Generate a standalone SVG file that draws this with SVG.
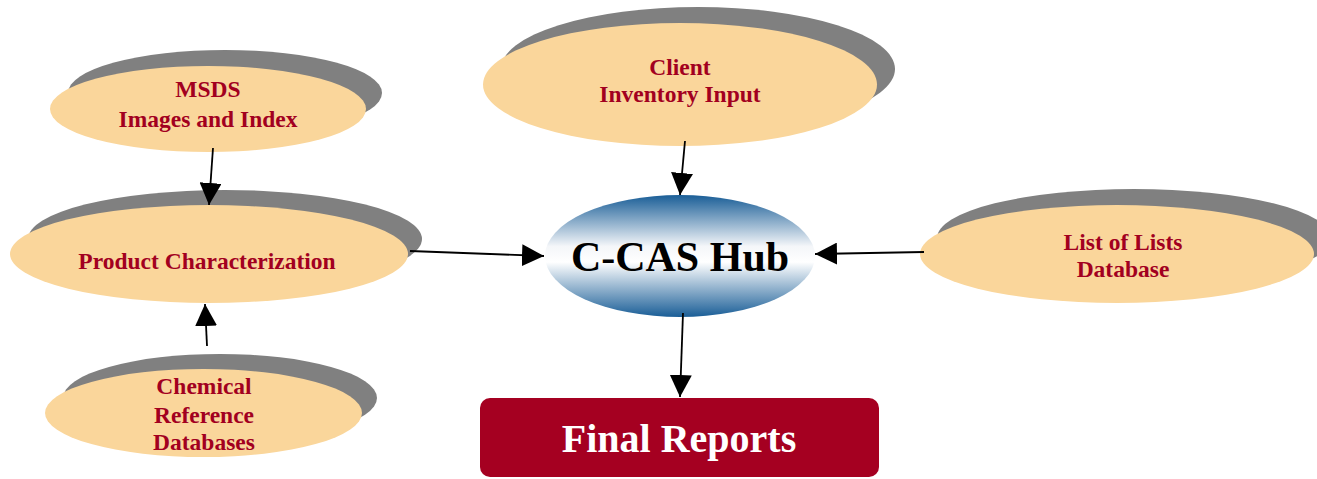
<svg xmlns="http://www.w3.org/2000/svg" width="1317" height="479" viewBox="0 0 1317 479">
<style>
.shadow{fill:#808080}
.front{fill:#fad69b}
.lbl{font-family:"Liberation Serif","Times New Roman",serif;font-weight:bold;font-size:23.5px;fill:#a2001f;text-anchor:middle}
.conn{stroke:#000;stroke-width:1.8;fill:none;marker-end:url(#arr)}
</style>
<defs>
<marker id="arr" markerUnits="userSpaceOnUse" markerWidth="22" markerHeight="22" viewBox="0 0 21 21" refX="21" refY="10.5" orient="auto">
<path d="M0,0 L21,10.5 L0,21 z" fill="#000"/>
</marker>
<linearGradient id="hubg" x1="0" y1="0" x2="0" y2="1">
<stop offset="0" stop-color="#1a5e97"/>
<stop offset="0.42" stop-color="#f4f6f9"/>
<stop offset="0.55" stop-color="#ffffff"/>
<stop offset="1" stop-color="#1a5e97"/>
</linearGradient>
</defs>
<rect width="1317" height="479" fill="#fff"/>
<g id="msds">
<ellipse class="shadow" cx="225" cy="93" rx="157" ry="43"/>
<ellipse class="front" cx="208" cy="109" rx="158" ry="43"/>
<text class="lbl" x="208" y="97">MSDS</text>
<text class="lbl" x="208" y="127">Images and Index</text>
</g>
<g id="product">
<ellipse class="shadow" cx="225" cy="239" rx="197" ry="49"/>
<ellipse class="front" cx="209" cy="254" rx="199" ry="49"/>
<text class="lbl" x="207" y="269">Product Characterization</text>
</g>
<g id="chemical">
<ellipse class="shadow" cx="220" cy="398" rx="157" ry="44"/>
<ellipse class="front" cx="203.5" cy="413" rx="158.5" ry="44"/>
<text class="lbl" x="204" y="394">Chemical</text>
<text class="lbl" x="204" y="423">Reference</text>
<text class="lbl" x="204" y="450">Databases</text>
</g>
<g id="client">
<ellipse class="shadow" cx="698" cy="69" rx="197" ry="62"/>
<ellipse class="front" cx="680" cy="84.5" rx="197" ry="61.5"/>
<text class="lbl" x="680" y="75">Client</text>
<text class="lbl" x="680" y="102">Inventory Input</text>
</g>
<g id="lists">
<ellipse class="shadow" cx="1134" cy="238" rx="197" ry="49"/>
<ellipse class="front" cx="1117" cy="254" rx="197" ry="49"/>
<text class="lbl" x="1123" y="250">List of Lists</text>
<text class="lbl" x="1123" y="277">Database</text>
</g>
<g id="hub">
<ellipse cx="680" cy="256" rx="135" ry="61" fill="url(#hubg)"/>
<text x="680" y="271" font-family="'Liberation Serif','Times New Roman',serif" font-weight="bold" font-size="42" fill="#000" text-anchor="middle">C-CAS Hub</text>
</g>
<g id="final">
<rect x="480" y="398" width="399" height="79" rx="10" fill="#a50021"/>
<text x="679" y="452" font-family="'Liberation Serif','Times New Roman',serif" font-weight="bold" font-size="40" fill="#fff" text-anchor="middle">Final Reports</text>
</g>
<g id="connectors">
<line class="conn" x1="213" y1="148" x2="209" y2="205"/>
<line class="conn" x1="207" y1="346" x2="205" y2="304"/>
<line class="conn" x1="410" y1="251" x2="544" y2="256"/>
<line class="conn" x1="685" y1="141" x2="680" y2="195"/>
<line class="conn" x1="924" y1="252" x2="815" y2="254"/>
<line class="conn" x1="683" y1="313" x2="680" y2="397"/>
</g>
</svg>
